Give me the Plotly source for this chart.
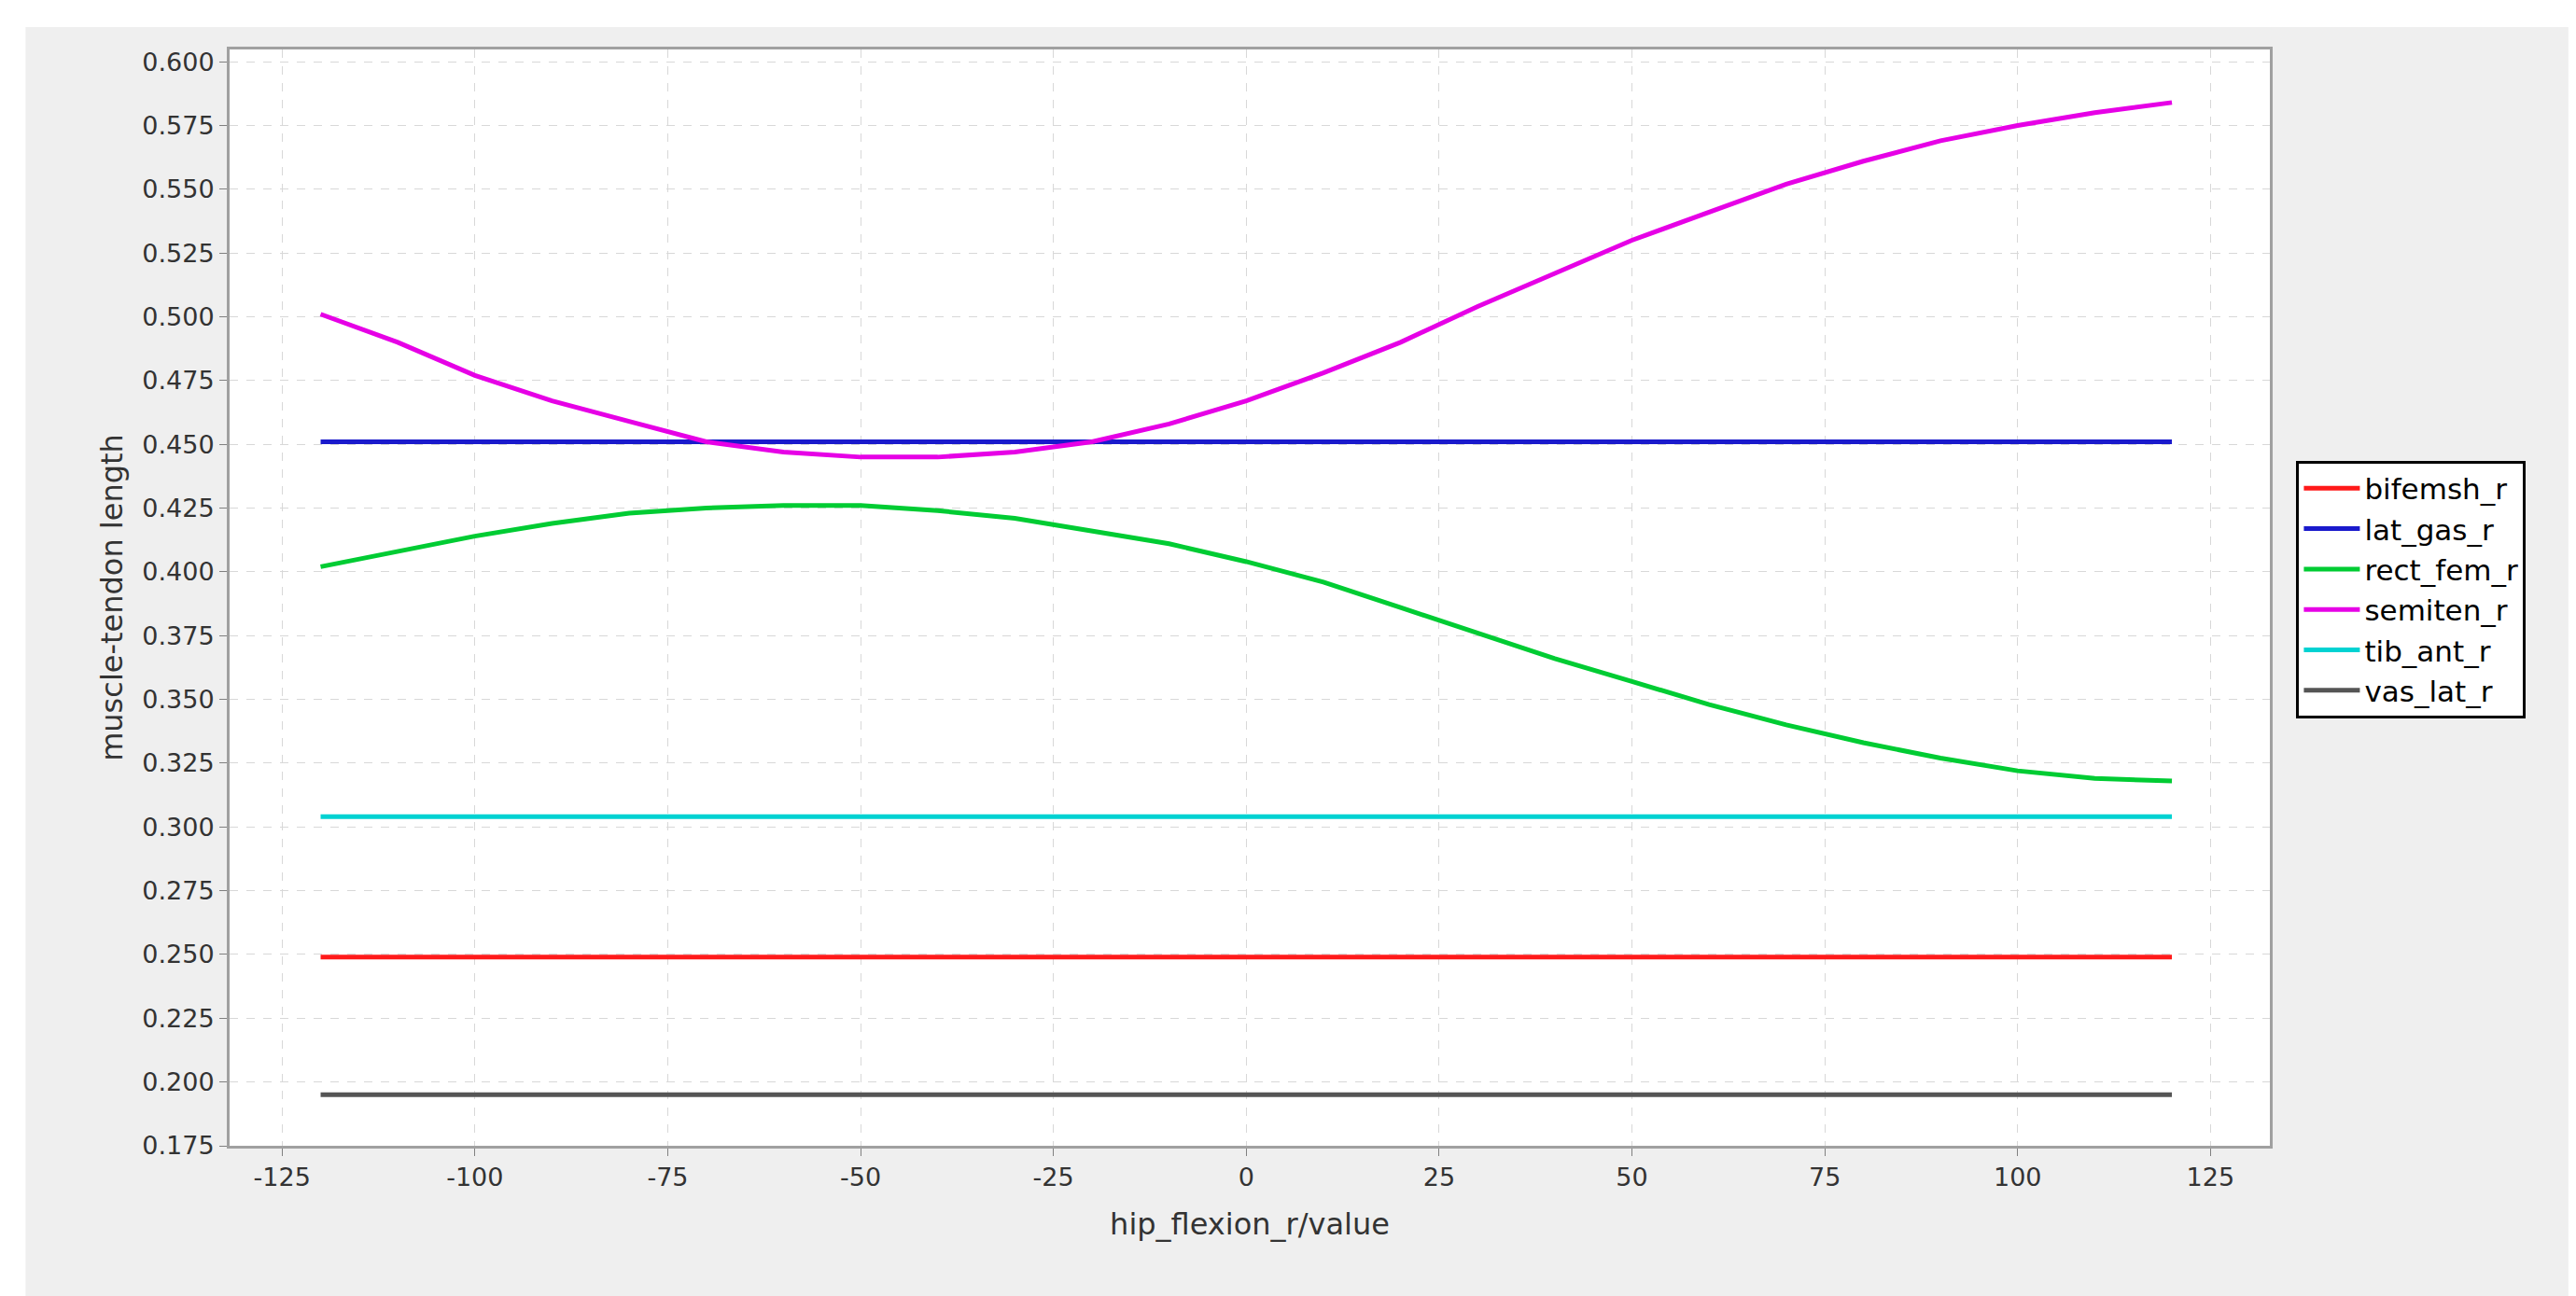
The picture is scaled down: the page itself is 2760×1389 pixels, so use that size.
import plotly.graph_objects as go

hip_flexion = [-120, -110, -100, -90, -80, -70, -60, -50, -40, -30, -20, -10, 0,
               10, 20, 30, 40, 50, 60, 70, 80, 90, 100, 110, 120]
semiten_r = [0.501, 0.490, 0.477, 0.467, 0.459, 0.451, 0.447, 0.445, 0.445, 0.447,
             0.451, 0.458, 0.467, 0.478, 0.490, 0.504, 0.517, 0.530, 0.541, 0.552,
             0.561, 0.569, 0.575, 0.580, 0.584]
rect_fem_r = [0.402, 0.408, 0.414, 0.419, 0.423, 0.425, 0.426, 0.426, 0.424, 0.421,
              0.416, 0.411, 0.404, 0.396, 0.386, 0.376, 0.366, 0.357, 0.348, 0.340,
              0.333, 0.327, 0.322, 0.319, 0.318]
bifemsh_r = [0.249] * len(hip_flexion)
lat_gas_r = [0.451] * len(hip_flexion)
tib_ant_r = [0.304] * len(hip_flexion)
vas_lat_r = [0.195] * len(hip_flexion)

x_ticks = list(range(-125, 126, 25))
x_ticklabels = [str(v) for v in x_ticks]  # plain hyphen minus like the original

series = [
    ("bifemsh_r", bifemsh_r, "#ff1a1a"),
    ("lat_gas_r", lat_gas_r, "#1a1acc"),
    ("rect_fem_r", rect_fem_r, "#00cc33"),
    ("semiten_r", semiten_r, "#e600e6"),
    ("tib_ant_r", tib_ant_r, "#00d2d2"),
    ("vas_lat_r", vas_lat_r, "#555555"),
]

fig = go.Figure()
for name, y, color in series:
    fig.add_trace(go.Scatter(x=hip_flexion, y=y, mode="lines", name=name,
                             line=dict(color=color, width=5)))

axis_common = dict(
    showgrid=True, gridcolor="#d8d8d8", griddash="dash", gridwidth=1,
    zeroline=False, showline=True, linecolor="#a0a0a0", linewidth=3, mirror=True,
    ticks="outside", ticklen=8, tickcolor="#808080",
    tickfont=dict(size=27, color="#333333"),
)

fig.update_layout(
    width=2760, height=1389,
    paper_bgcolor="white", plot_bgcolor="white",
    font=dict(family="DejaVu Sans", color="#333333"),
    margin=dict(l=238, r=336, t=45, b=169),
    xaxis=dict(range=[-131.8, 132.7], tickvals=x_ticks, ticktext=x_ticklabels,
               title=dict(text="hip_flexion_r/value", font=dict(size=32), standoff=25),
               **axis_common),
    yaxis=dict(range=[0.175, 0.6048], dtick=0.025, tickformat=".3f",
               title=dict(text="muscle-tendon length", font=dict(size=32), standoff=12),
               **axis_common),
    legend=dict(x=1.013, y=0.625, xanchor="left", yanchor="top",
                bordercolor="black", borderwidth=3, bgcolor="white",
                font=dict(size=31, color="black"), tracegroupgap=14,
                itemwidth=60),
    shapes=[
        dict(type="rect", xref="paper", yref="paper", layer="below",
             x0=-0.100, x1=1.1463, y0=-0.1565, y1=1.0204,
             fillcolor="#efefef", line=dict(width=0)),
        dict(type="rect", xref="paper", yref="paper", layer="below",
             x0=0, x1=1, y0=0, y1=1, fillcolor="white", line=dict(width=0)),
    ],
)

fig.write_html("out.html")
